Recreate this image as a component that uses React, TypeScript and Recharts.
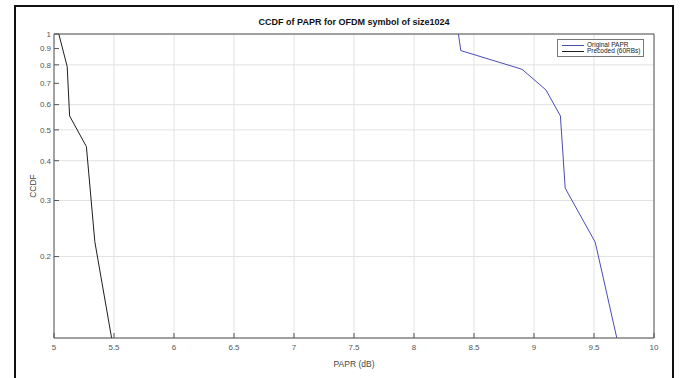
import { LineChart, Line, XAxis, YAxis, CartesianGrid, Legend } from 'recharts'

const xTicks = [5, 5.5, 6, 6.5, 7, 7.5, 8, 8.5, 9, 9.5, 10]
const yTicks = [0.2, 0.3, 0.4, 0.5, 0.6, 0.7, 0.8, 0.9, 1]
const yMinor = [0.12, 0.14, 0.16, 0.18, 0.25, 0.35, 0.45, 0.55, 0.65, 0.75, 0.85, 0.95]

// Original PAPR (blue)
const originalPapr = [8.37, 8.39, 8.9, 9.1, 9.22, 9.26, 9.51, 9.69]
const originalCcdf = [1, 0.887, 0.775, 0.667, 0.553, 0.328, 0.222, 0.111]

// Precoded (60RBs) (black)
const precodedPapr = [5.04, 5.11, 5.13, 5.27, 5.34, 5.48]
const precodedCcdf = [1, 0.79, 0.553, 0.443, 0.223, 0.111]

const BLUE = '#4b4bb4'
const BLACK = '#1e1e1e'
const FONT = '"Liberation Sans", Arial, Helvetica, sans-serif'
const tickStyle = { fontSize: 8, fill: '#555', fontFamily: FONT }

const renderLegend = () => (
  <div
    style={{
      border: '1px solid #777',
      background: '#fff',
      padding: '2px 3px 2px 4px',
      fontFamily: FONT,
      fontSize: 6.5,
      lineHeight: '6px',
      color: '#222',
    }}
  >
    {[
      { name: 'Original PAPR', color: BLUE },
      { name: 'Precoded (60RBs)', color: BLACK },
    ].map((it) => (
      <div key={it.name} style={{ display: 'flex', alignItems: 'center' }}>
        <span style={{ display: 'inline-block', width: 22, height: 1, background: it.color, marginRight: 3 }} />
        <span>{it.name}</span>
      </div>
    ))}
  </div>
)

export default function App() {
  const original = originalPapr.map((x, i) => ({ papr: x, ccdf: originalCcdf[i] }))
  const precoded = precodedPapr.map((x, i) => ({ papr: x, ccdf: precodedCcdf[i] }))

  return (
    <div style={{ position: 'absolute', left: 0, top: 0, width: 683, height: 378, background: '#fff', overflow: 'hidden' }}>
      <div
        style={{
          position: 'absolute',
          left: 14,
          top: 5,
          width: 656,
          height: 380,
          borderLeft: '2px solid #111',
          borderTop: '2px solid #111',
          borderRight: '2px solid #111',
        }}
      />
      <LineChart width={683} height={378} margin={{ top: 33, right: 28, bottom: 8, left: 12 }} style={{ fontFamily: FONT }}>
        <CartesianGrid yAxisId="right" vertical={false} stroke="#d6d6d6" strokeDasharray="1 1" />
        <CartesianGrid stroke="#e2e2e2" />
        <XAxis
          dataKey="papr"
          type="number"
          domain={[5, 10]}
          ticks={xTicks}
          allowDataOverflow
          height={32}
          tickSize={-5}
          tickMargin={11}
          tick={tickStyle}
          stroke="#555"
          label={{ value: 'PAPR (dB)', position: 'insideBottom', offset: 3, fontSize: 8.5, fill: '#444' }}
        />
        <XAxis
          xAxisId="top"
          orientation="top"
          type="number"
          domain={[5, 10]}
          ticks={xTicks}
          height={1}
          tickSize={-5}
          tick={false}
          stroke="#555"
          label={{ value: 'CCDF of PAPR for OFDM symbol of size1024', position: 'top', offset: 8, fontSize: 9, fontWeight: 'bold', fill: '#111' }}
        />
        <YAxis
          type="number"
          scale="log"
          domain={[0.111, 1]}
          ticks={yTicks}
          allowDataOverflow
          width={42}
          tickSize={-5}
          tickMargin={8}
          tick={tickStyle}
          tickFormatter={(v: number) => String(v)}
          stroke="#555"
          label={{ value: 'CCDF', angle: -90, position: 'center', fontSize: 8.5, fill: '#444' }}
        />
        <YAxis
          yAxisId="right"
          orientation="right"
          type="number"
          scale="log"
          domain={[0.111, 1]}
          ticks={[...yMinor, ...yTicks].sort((a, b) => a - b)}
          allowDataOverflow
          width={1}
          tickSize={-3}
          tick={false}
          stroke="#555"
        />
        <Legend
          layout="vertical"
          align="center"
          verticalAlign="middle"
          content={renderLegend}
          wrapperStyle={{ left: 557, top: 39, width: 'auto', height: 'auto' }}
        />
        <Line
          data={original}
          dataKey="ccdf"
          name="Original PAPR"
          stroke={BLUE}
          strokeWidth={1}
          dot={false}
          activeDot={false}
          isAnimationActive={false}
          type="linear"
        />
        <Line
          data={precoded}
          dataKey="ccdf"
          name="Precoded (60RBs)"
          stroke={BLACK}
          strokeWidth={1}
          dot={false}
          activeDot={false}
          isAnimationActive={false}
          type="linear"
        />
      </LineChart>
    </div>
  )
}
